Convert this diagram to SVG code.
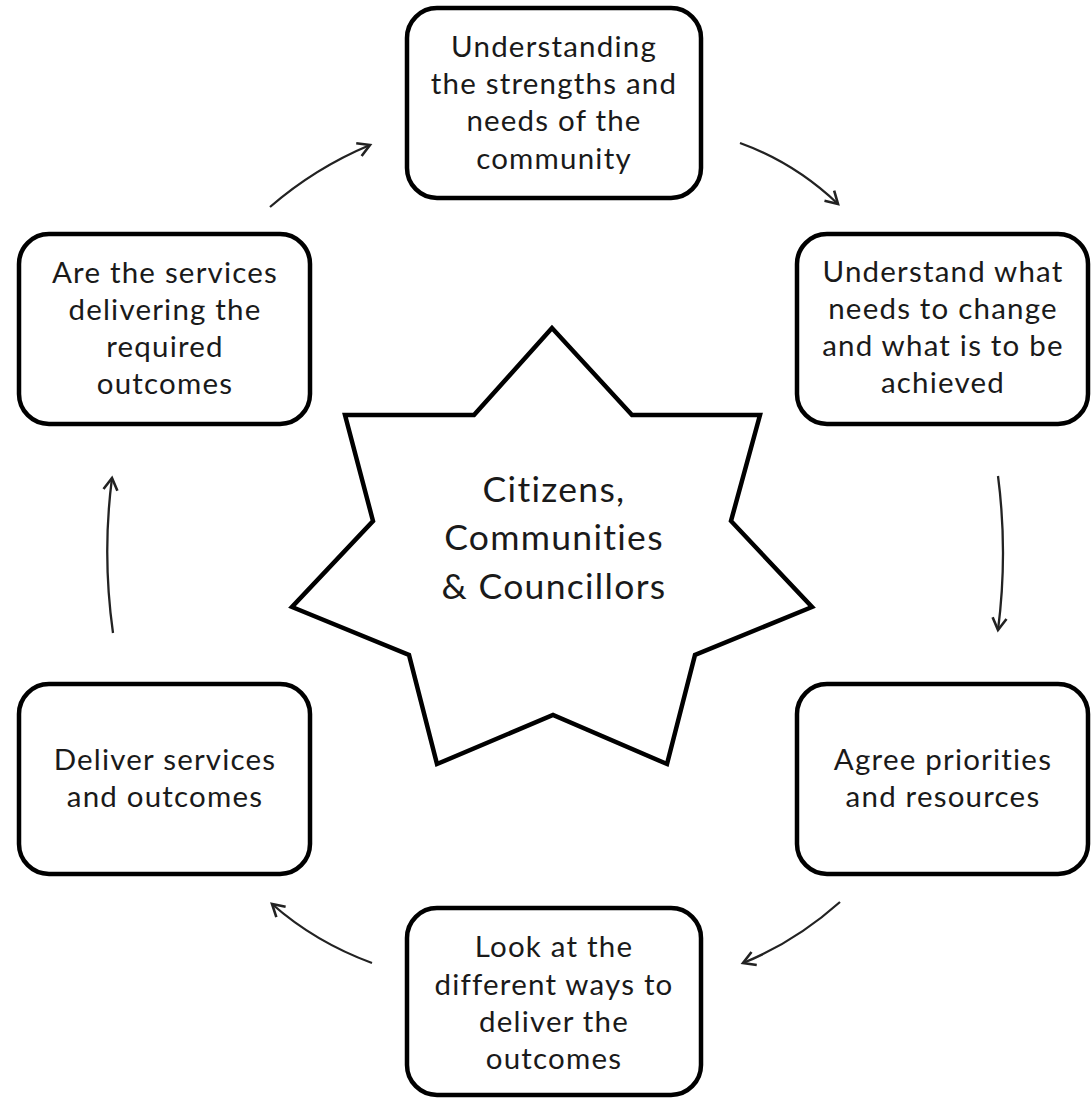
<svg xmlns="http://www.w3.org/2000/svg" width="1091" height="1098" viewBox="0 0 1091 1098">
<style>
.box{fill:#fff;stroke:#000;stroke-width:4.5}
.t{font-family:Lato,"Open Sans",sans-serif;font-size:29.5px;letter-spacing:1.2px;fill:#1a1a1a;text-anchor:middle}
.c{font-family:Lato,"Open Sans",sans-serif;font-size:35.5px;letter-spacing:1.3px;fill:#1a1a1a;text-anchor:middle}
.a{fill:none;stroke:#222;stroke-width:2.3;marker-end:url(#ah)}
</style>
<defs>
<marker id="ah" markerUnits="userSpaceOnUse" markerWidth="22" markerHeight="22" refX="13" refY="8" orient="auto" viewBox="0 0 22 16">
<path d="M1,1 L13,8 L1,15" fill="none" stroke="#222" stroke-width="2.6"/>
</marker>
</defs>
<rect width="1091" height="1098" fill="#fff"/>
<g id="star">
<polygon class="box" points="552,328 474,415 345,415 373,521 292,607 409,655 437,764 553,715 667,764 695,655 812,607 731,521 760,415 632,415"/>
<text class="c" x="554" y="502">Citizens,</text>
<text class="c" x="554" y="550">Communities</text>
<text class="c" x="554" y="599">&amp; Councillors</text>
</g>
<g id="n1">
<rect class="box" x="407" y="8" width="294" height="190" rx="30"/>
<text class="t" x="554" y="57">Understanding</text>
<text class="t" x="554" y="94">the strengths and</text>
<text class="t" x="554" y="131">needs of the</text>
<text class="t" x="554" y="169">community</text>
</g>
<g id="n2">
<rect class="box" x="797" y="234" width="291" height="190" rx="30"/>
<text class="t" x="943" y="282">Understand what</text>
<text class="t" x="943" y="319">needs to change</text>
<text class="t" x="943" y="356">and what is to be</text>
<text class="t" x="943" y="393">achieved</text>
</g>
<g id="n3">
<rect class="box" x="797" y="684" width="291" height="190" rx="30"/>
<text class="t" x="943" y="770">Agree priorities</text>
<text class="t" x="943" y="807">and resources</text>
</g>
<g id="n4">
<rect class="box" x="407" y="908" width="294" height="187" rx="30"/>
<text class="t" x="554" y="957">Look at the</text>
<text class="t" x="554" y="995">different ways to</text>
<text class="t" x="554" y="1032">deliver the</text>
<text class="t" x="554" y="1069">outcomes</text>
</g>
<g id="n5">
<rect class="box" x="19" y="684" width="291" height="190" rx="30"/>
<text class="t" x="165" y="770">Deliver services</text>
<text class="t" x="165" y="807">and outcomes</text>
</g>
<g id="n6">
<rect class="box" x="19" y="234" width="291" height="190" rx="30"/>
<text class="t" x="165" y="283">Are the services</text>
<text class="t" x="165" y="320">delivering the</text>
<text class="t" x="165" y="357">required</text>
<text class="t" x="165" y="394">outcomes</text>
</g>
<g id="connectors">
<path class="a" d="M270,207 Q315,168 370,145"/>
<path class="a" d="M740,143 Q795,163 838,204"/>
<path class="a" d="M998,476 Q1008,553 998,630"/>
<path class="a" d="M840,902 Q795,942 743,963"/>
<path class="a" d="M372,963 Q315,942 272,904"/>
<path class="a" d="M113,633 Q102,555 112,478"/>
</g>
</svg>
